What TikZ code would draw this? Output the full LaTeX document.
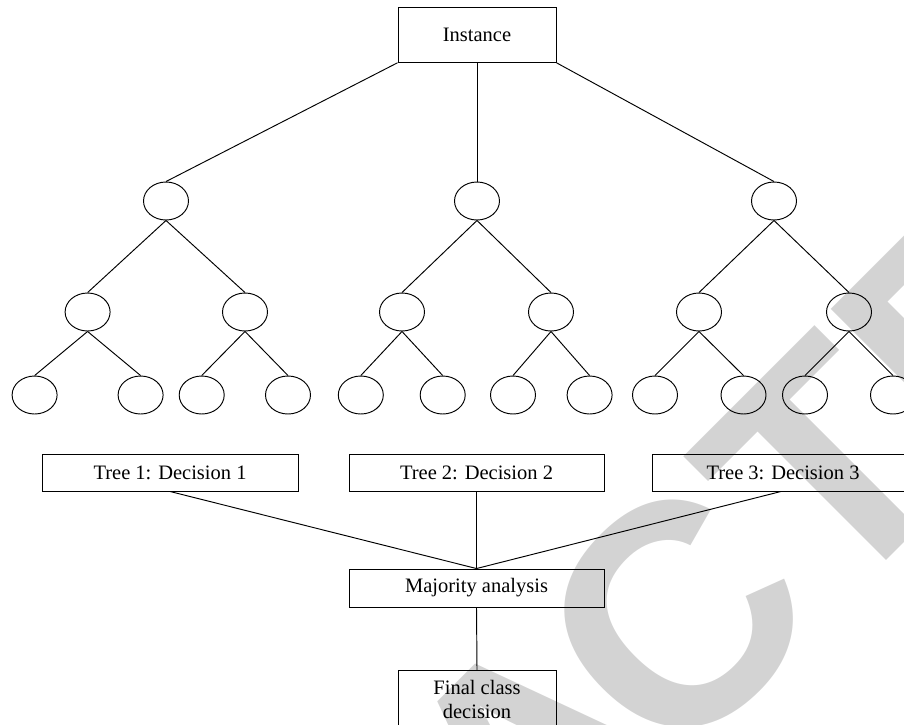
\documentclass[tikz,border=0pt]{standalone}
\usepackage{fontspec}
\setmainfont{Liberation Serif}
\newfontfamily\wmfont{Liberation Sans}
\usetikzlibrary{shapes.geometric}
\definecolor{wmgray}{RGB}{211,211,211}
\begin{document}
\begin{tikzpicture}[x=1pt,y=-1pt,line width=0.95pt,
  box/.style={draw,rectangle,inner sep=0pt,font=\fontsize{20.5}{24}\selectfont,align=center},
  nd/.style={draw,ellipse,minimum width=45pt,minimum height=38pt,inner sep=0pt},
  wmark/.style={text=wmgray,inner sep=0pt,anchor=base west,rotate=45,font=\wmfont\bfseries\fontsize{315}{315}\selectfont}]
\useasboundingbox (0,0) rectangle (904,724);
% watermark (letters of RETRACTED visible in the frame)
\node[wmark] (wmA) at (529.2,917.3) {A};
\node[wmark] (wmC) at (671,775.6) {C};
\node[wmark] (wmT) at (833.9,612.7) {T};
\node[wmark] (wmE) at (969,477.5) {E};
% top
\node[box,minimum width=158pt,minimum height=55pt] (inst) at (477,34.8) {Instance};
% level 1
\node[nd] (a) at (166,201) {};
\node[nd] (b) at (477,201) {};
\node[nd] (c) at (774,201) {};
% level 2
\node[nd] (a1) at (87.6,312) {};
\node[nd] (a2) at (245,312) {};
\node[nd] (b1) at (402,312) {};
\node[nd] (b2) at (551,312) {};
\node[nd] (c1) at (699,312) {};
\node[nd] (c2) at (849,312) {};
% level 3
\node[nd] (a11) at (34.6,395) {};
\node[nd] (a12) at (140.6,395) {};
\node[nd] (a21) at (201.7,395) {};
\node[nd] (a22) at (288,395) {};
\node[nd] (b11) at (360.8,395) {};
\node[nd] (b12) at (442.7,395) {};
\node[nd] (b21) at (513,395) {};
\node[nd] (b22) at (589.6,395) {};
\node[nd] (c11) at (655,395) {};
\node[nd] (c12) at (743.5,395) {};
\node[nd] (c21) at (805,395) {};
\node[nd] (c22) at (893,395) {};
% decisions
\node[box,minimum width=256pt,minimum height=37pt] (t1) at (170,472.5) {Tree 1: Decision 1};
\node[box,minimum width=255pt,minimum height=37pt] (t2) at (476.5,472.5) {Tree 2: Decision 2};
\node[box,minimum width=262pt,minimum height=37pt] (t3) at (783,472.5) {Tree 3: Decision 3};
\node[box,minimum width=255pt,minimum height=38pt] (maj) at (476.5,588) {Majority analysis};
\node[box,minimum width=158pt,minimum height=58pt,anchor=north] (fin) at (477,670) {Final class\\decision};
% connectors
\draw (inst.south west) -- (a.north);
\draw (inst.south) -- (b.north);
\draw (inst.south east) -- (c.north);
\foreach \p/\q in {a/a1,a/a2,b/b1,b/b2,c/c1,c/c2,
  a1/a11,a1/a12,a2/a21,a2/a22,b1/b11,b1/b12,b2/b21,b2/b22,c1/c11,c1/c12,c2/c21,c2/c22}
  \draw (\p.south) -- (\q.north);
\draw (t1.south) -- (maj.north);
\draw (t2.south) -- (maj.north);
\draw ([xshift=-2pt]t3.south) -- (maj.north);
\draw (maj.south) -- (fin.north);
\end{tikzpicture}
\end{document}
